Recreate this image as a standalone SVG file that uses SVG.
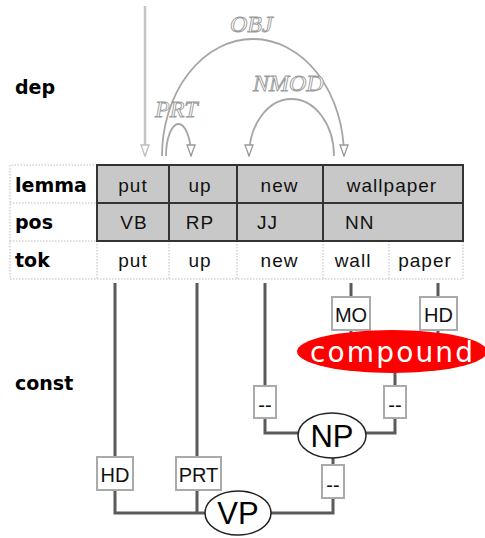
<svg xmlns="http://www.w3.org/2000/svg" width="485" height="538" viewBox="0 0 485 538">
<style>
.lbl{font-family:"DejaVu Sans",sans-serif;font-weight:bold;font-size:19px;fill:#000}
.cell{font-family:"Liberation Sans",sans-serif;font-size:19px;letter-spacing:1px;fill:#111}
.mid{text-anchor:middle}
.dep{font-family:"Liberation Serif",serif;font-style:italic;font-size:24px;fill:#fff;stroke:#999;stroke-width:0.9}
.arc{fill:none;stroke:#a6a6a6;stroke-width:1.8}
.dot{fill:none;stroke:#bbb;stroke-width:1;stroke-dasharray:1.5 1.5}
.grid{stroke:#333;stroke-width:2;fill:none}
.edge{fill:none;stroke:#5a5a5a;stroke-width:3}
.box{fill:#fff;stroke:#aaa;stroke-width:2}
.btxt{font-family:"Liberation Sans",sans-serif;font-size:20px;fill:#111;text-anchor:middle}
.cat{fill:#fff;stroke:#222;stroke-width:1.5}
.ctxt{font-family:"Liberation Sans",sans-serif;font-size:31px;fill:#000;text-anchor:middle}
</style>
<defs>
<marker id="ah" viewBox="-1 -5 13 10" refX="11" refY="0" markerWidth="13" markerHeight="10" markerUnits="userSpaceOnUse" orient="auto">
<path d="M0,-4 L11,0 L0,4 z" fill="#fff" stroke="#999" stroke-width="1.3"/>
</marker>
<marker id="ah2" viewBox="-1 -5 13 10" refX="11" refY="0" markerWidth="13" markerHeight="10" markerUnits="userSpaceOnUse" orient="auto">
<path d="M0,-4 L11,0 L0,4 z" fill="#fff" stroke="#bdbdbd" stroke-width="1.3"/>
</marker>
</defs>
<rect width="485" height="538" fill="#fff"/>

<g id="row-labels">
<text class="lbl" x="15" y="94">dep</text>
<text class="lbl" x="15" y="192">lemma</text>
<text class="lbl" x="15" y="229">pos</text>
<text class="lbl" x="15" y="267">tok</text>
<text class="lbl" x="15" y="390">const</text>
</g>

<g id="table">
<rect x="97" y="165" width="366" height="76" fill="#c8c8c8"/>
<path class="dot" d="M97,165 H10 V279 H463 V241 M10,203 H97 M10,241 H97 M97,241 V279 M169,241 V279 M237,241 V279 M323,241 V279 M389,241 V279"/>
<path class="grid" d="M97,165 H463 V241 H97 Z M97,203 H463 M169,165 V241 M237,165 V241 M323,165 V241"/>
<text class="cell mid" x="133" y="192">put</text>
<text class="cell mid" x="200" y="192">up</text>
<text class="cell mid" x="279.5" y="192">new</text>
<text class="cell mid" x="392" y="192">wallpaper</text>
<text class="cell mid" x="134" y="229">VB</text>
<text class="cell mid" x="200" y="229">RP</text>
<text class="cell" x="257" y="229">JJ</text>
<text class="cell" x="345" y="229">NN</text>
<text class="cell mid" x="133" y="267">put</text>
<text class="cell mid" x="200" y="267">up</text>
<text class="cell mid" x="279.5" y="267">new</text>
<text class="cell mid" x="353" y="267">wall</text>
<text class="cell mid" x="425" y="267">paper</text>
</g>

<g id="dependencies">
<path d="M145,6 V156" fill="none" stroke="#c4c4c4" stroke-width="2.5" marker-end="url(#ah2)"/>
<path class="arc" d="M162,156 A91,117 0 0 1 344,156" marker-end="url(#ah)"/>
<path class="arc" d="M166,156 A12.5,32 0 0 1 191,156" marker-end="url(#ah)"/>
<path class="arc" d="M334,156 A42.5,57 0 0 0 249,156" marker-end="url(#ah)"/>
<text class="dep" x="230" y="32">OBJ</text>
<text class="dep" x="155" y="117">PRT</text>
<text class="dep" x="253" y="91">NMOD</text>
</g>

<g id="connectors">
<path class="edge" d="M115,283 V457 M115,490 V513 H206 M197,283 V457 M197,490 V513"/>
<path class="edge" d="M270,513 H333 V498 M333,465 V457"/>
<path class="edge" d="M299,433 H265 V418 M265,283 V386"/>
<path class="edge" d="M365,433 H395 V418 M395,386 V372"/>
<path class="edge" d="M351,283 V297 M351,330 V336 M438,283 V297 M438,330 V336"/>
</g>

<g id="edge-labels">
<rect class="box" x="97" y="457" width="36" height="33"/>
<text class="btxt" x="115" y="482">HD</text>
<rect class="box" x="176" y="457" width="45" height="33"/>
<text class="btxt" x="198.5" y="482">PRT</text>
<rect class="box" x="322" y="465" width="22" height="33"/>
<text class="btxt" x="333" y="492">--</text>
<rect class="box" x="254" y="386" width="22" height="32"/>
<text class="btxt" x="265" y="412">--</text>
<rect class="box" x="384" y="386" width="22" height="32"/>
<text class="btxt" x="395" y="412">--</text>
<rect class="box" x="332" y="297" width="38" height="33"/>
<text class="btxt" x="351" y="322">MO</text>
<rect class="box" x="420" y="297" width="37" height="33"/>
<text class="btxt" x="438.5" y="322">HD</text>
</g>

<g id="node-compound">
<ellipse cx="392" cy="351.5" rx="95" ry="21.5" fill="#f00"/>
<text x="310" y="362" font-family="DejaVu Sans, sans-serif" font-size="28" fill="#fff" textLength="163">compound</text>
</g>
<g id="node-NP">
<ellipse class="cat" cx="332" cy="435.5" rx="34" ry="22.5"/>
<text class="ctxt" x="332" y="446.5">NP</text>
</g>
<g id="node-VP">
<ellipse class="cat" cx="238" cy="513" rx="33" ry="22"/>
<text class="ctxt" x="238" y="524">VP</text>
</g>
</svg>
